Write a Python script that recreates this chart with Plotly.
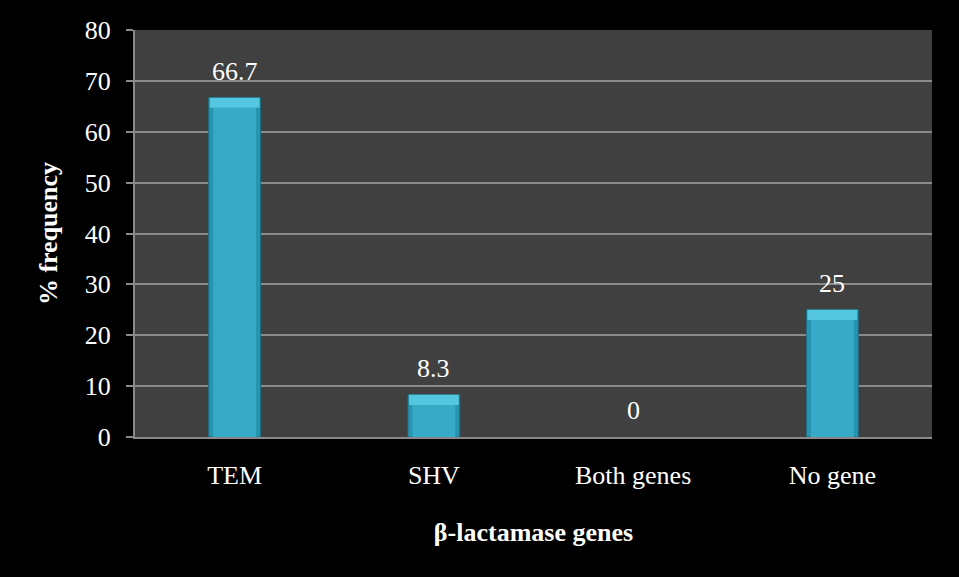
import plotly.graph_objects as go

categories = ["TEM", "SHV", "Both genes", "No gene"]
frequency = [66.7, 8.3, 0, 25]
y_ticks = [0, 10, 20, 30, 40, 50, 60, 70, 80]

FONT = "Liberation Serif, Times New Roman, serif"
cap = 2.0  # depth of the lighter bevel at the top of each bar, in axis units

fig = go.Figure()

# outer body: darker edge of the bevel
fig.add_trace(go.Bar(
    x=categories, y=frequency, width=0.26,
    marker=dict(color="#2794b0",
                line=dict(color="#1d6f84", width=[1 if v > 0 else 0 for v in frequency])),
    hoverinfo="skip",
))
# inner face of the bar
fig.add_trace(go.Bar(
    x=categories, y=[max(v - cap, 0) for v in frequency], width=0.215,
    marker=dict(color="#37aac8", line=dict(width=0)), hoverinfo="skip",
))
# lighter top bevel
fig.add_trace(go.Bar(
    x=categories, y=[cap if v > cap else 0 for v in frequency],
    base=[v - cap if v > cap else 0 for v in frequency], width=0.25,
    marker=dict(color="#55c6df", line=dict(width=0)), hoverinfo="skip",
))

# value labels above each bar
for cat, v in zip(categories, frequency):
    fig.add_annotation(
        x=cat, y=v, text=f"{v:g}", showarrow=False,
        yanchor="bottom", yshift=10,
        font=dict(family=FONT, size=26, color="white"),
    )

fig.update_layout(
    width=959, height=577,
    paper_bgcolor="black", plot_bgcolor="#404040",
    margin=dict(l=135, r=27, t=30, b=140),
    barmode="overlay", showlegend=False,
    font=dict(family=FONT, color="white", size=26),
    xaxis=dict(
        type="category", showline=True, linecolor="#8a8a8a", linewidth=2,
        ticks="", ticklabelstandoff=14,
        tickfont=dict(family=FONT, size=26, color="white"),
        title=dict(text="<b>β-lactamase genes</b>", standoff=34,
                   font=dict(family=FONT, size=26, color="white")),
        showgrid=False,
    ),
    yaxis=dict(
        range=[0, 80], tickvals=y_ticks, showline=True, linecolor="#8a8a8a",
        linewidth=2, ticks="outside", ticklen=7, tickcolor="#8a8a8a", tickwidth=2,
        ticklabelstandoff=10,
        gridcolor="#8a8a8a", gridwidth=2, zeroline=False,
        tickfont=dict(family=FONT, size=26, color="white"),
        title=dict(text="<b>% frequency</b>", standoff=20,
                   font=dict(family=FONT, size=26, color="white")),
    ),
)

fig.write_html("out.html")
